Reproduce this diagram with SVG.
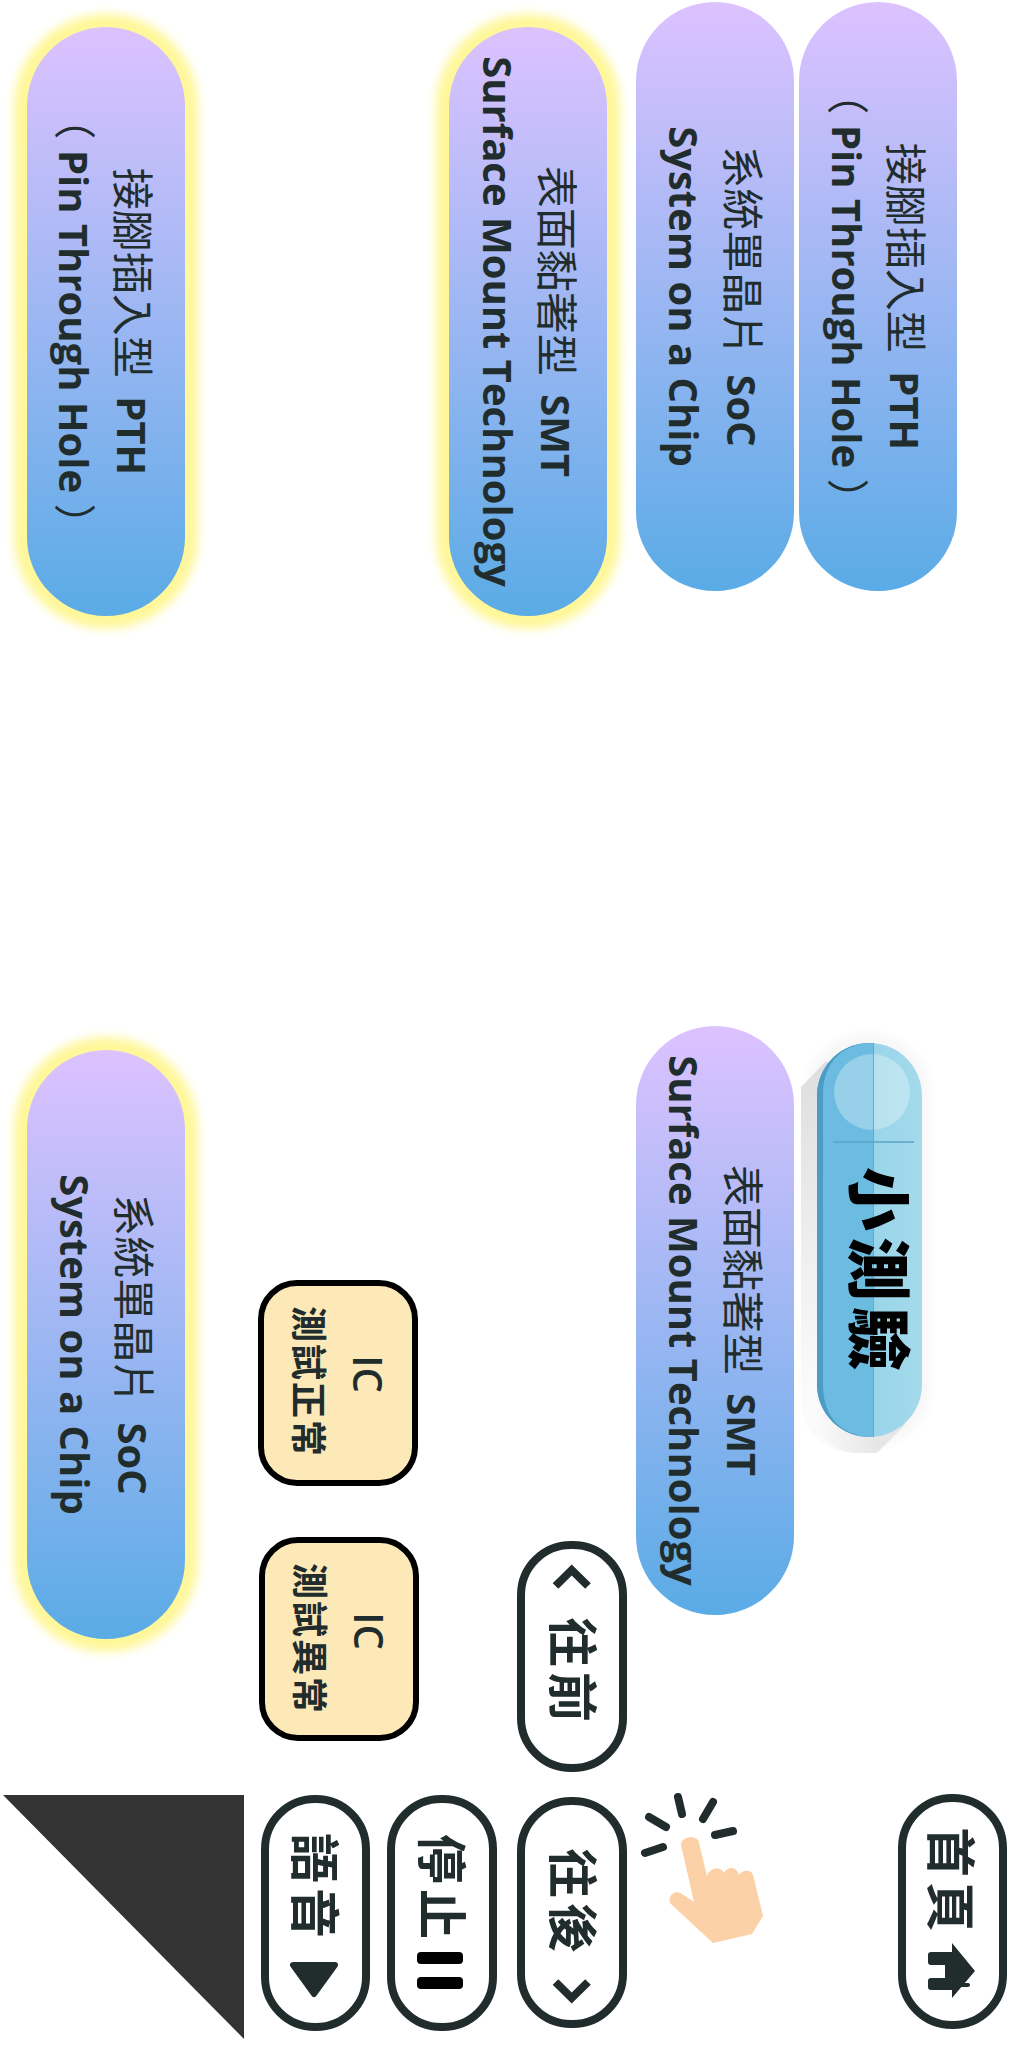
<svg xmlns="http://www.w3.org/2000/svg" width="1024" height="2048" viewBox="0 0 1024 2048">
<style>
text{font-family:"Noto Sans CJK TC",sans-serif;fill:#212d2c}
.p{font-family:"Open Sans","Noto Sans CJK TC",sans-serif;font-size:40px;font-weight:700;text-anchor:middle}
.c{font-family:"Noto Sans CJK TC",sans-serif;font-weight:400;font-size:42px;word-spacing:9px}
.ic{font-family:"Open Sans",sans-serif;font-size:40px;font-weight:600;text-anchor:middle}
.ict{font-size:36px;font-weight:700;letter-spacing:2px;text-anchor:middle}
.b{font-size:50px;font-weight:700;letter-spacing:5px}
.btn{fill:#fff;stroke:#212d2c;stroke-width:8}
.box{fill:#fde8b8;stroke:#000;stroke-width:6}
.ray{stroke:#212d2c;stroke-width:8;stroke-linecap:round;fill:none}
.chev{fill:none;stroke:#212d2c;stroke-width:8}
.glow{fill:#fff79a;filter:url(#blur)}
.pill{fill:url(#g)}
</style>
<defs>
<linearGradient id="g" x1="0" y1="0" x2="0" y2="1"><stop offset="0" stop-color="#dcc2ff"/><stop offset="1" stop-color="#5aabe6"/></linearGradient>
<linearGradient id="qr" x1="0" y1="0" x2="1" y2="0"><stop offset="0" stop-color="#8ccfe6"/><stop offset="1" stop-color="#a4daec"/></linearGradient>
<linearGradient id="sh" x1="0" y1="0" x2="0" y2="1"><stop offset="0" stop-color="#dedede"/><stop offset=".85" stop-color="#fbfbfb"/><stop offset="1" stop-color="#fbfbfb"/></linearGradient>
<linearGradient id="sh2" x1="0" y1="0" x2="1" y2="0"><stop offset="0" stop-color="#e6e6e6" stop-opacity="0"/><stop offset=".7" stop-color="#e6e6e6"/></linearGradient>
<filter id="blur" x="-20%" y="-10%" width="140%" height="120%"><feGaussianBlur stdDeviation="5"/></filter>
<clipPath id="ql"><rect x="817" y="1043" width="56" height="394"/></clipPath>
</defs>

<g id="pill-pth-glow">
<rect x="14" y="14" width="184" height="615" rx="92" class="glow"/>
<rect x="27" y="27" width="158" height="589" rx="79" class="pill"/>
<g transform="translate(117,321.500) rotate(90)"><text class="p"><tspan class="c">接腳插入型 </tspan>PTH</text></g>
<g transform="translate(59,321.500) rotate(90)"><text class="p"><tspan class="c">（</tspan> Pin Through Hole <tspan class="c">）</tspan></text></g>
</g>
<g id="pill-smt-glow">
<rect x="436" y="14" width="184" height="615" rx="92" class="glow"/>
<rect x="449" y="27" width="158" height="589" rx="79" class="pill"/>
<g transform="translate(541,321.500) rotate(90)"><text class="p"><tspan class="c">表面黏著型 </tspan>SMT</text></g>
<g transform="translate(483,321.500) rotate(90)"><text class="p">Surface Mount Technology</text></g>
</g>
<g id="pill-soc">
<rect x="636" y="2" width="158" height="589" rx="79" class="pill"/>
<g transform="translate(727,296.500) rotate(90)"><text class="p"><tspan class="c">系統單晶片 </tspan>SoC</text></g>
<g transform="translate(669,296.500) rotate(90)"><text class="p">System on a Chip</text></g>
</g>
<g id="pill-pth">
<rect x="799" y="2" width="158" height="589" rx="79" class="pill"/>
<g transform="translate(890,296.500) rotate(90)"><text class="p"><tspan class="c">接腳插入型 </tspan>PTH</text></g>
<g transform="translate(832,296.500) rotate(90)"><text class="p"><tspan class="c">（</tspan> Pin Through Hole <tspan class="c">）</tspan></text></g>
</g>
<g id="pill-smt">
<rect x="636" y="1026" width="158" height="589" rx="79" class="pill"/>
<g transform="translate(727,1320.500) rotate(90)"><text class="p"><tspan class="c">表面黏著型 </tspan>SMT</text></g>
<g transform="translate(669,1320.500) rotate(90)"><text class="p">Surface Mount Technology</text></g>
</g>
<g id="pill-soc-glow">
<rect x="14" y="1037" width="184" height="615" rx="92" class="glow"/>
<rect x="27" y="1050" width="158" height="589" rx="79" class="pill"/>
<g transform="translate(118,1344.500) rotate(90)"><text class="p"><tspan class="c">系統單晶片 </tspan>SoC</text></g>
<g transform="translate(60,1344.500) rotate(90)"><text class="p">System on a Chip</text></g>
</g>

<g id="quiz">
<rect x="806" y="1034" width="124" height="412" rx="60" fill="#000" fill-opacity=".03" filter="url(#blur)"/>
<path d="M825 1062L801 1087V1401A52 52 0 0 0 853 1453H877L905 1425V1062Z" fill="url(#sh)"/>
<path d="M815 1400V1412A41 41 0 0 0 856 1453H877L905 1425V1400Z" fill="url(#sh2)"/>
<rect x="817" y="1043" width="105" height="394" rx="52.5" fill="url(#qr)"/>
<rect x="817" y="1043" width="105" height="394" rx="52.5" fill="#6cbce1" clip-path="url(#ql)"/>
<path d="M873 1043H870A52.500 52.500 0 0 0 817 1095V1385A52.500 52.500 0 0 0 870 1437H873C845 1437 823 1420 823 1385V1095C823 1060 845 1043 873 1043Z" fill="#4c9cc6"/>
<circle cx="872" cy="1092" r="38" fill="#fff" fill-opacity=".3"/>
<path d="M833 1142H914" stroke="#5aa3c8" stroke-width="1.500"/>
<path d="M873.500 1043V1437" stroke="#5fabcf" stroke-width="1"/>
<g transform="translate(855,1167) rotate(90)"><text font-size="64" font-weight="900" letter-spacing="6" style="fill:#000">小測驗</text></g>
</g>

<g id="ic-ok">
<rect x="261" y="1283" width="154" height="200" rx="36" class="box"/>
<g transform="translate(353,1374) rotate(90)"><text class="ic">IC</text></g>
<g transform="translate(295,1382) rotate(90)"><text class="ict">測試正常</text></g>
</g>
<g id="ic-bad">
<rect x="262" y="1540" width="154" height="198" rx="36" class="box"/>
<g transform="translate(354,1631) rotate(90)"><text class="ic">IC</text></g>
<g transform="translate(296,1639) rotate(90)"><text class="ict">測試異常</text></g>
</g>

<g id="corner-triangle"><polygon points="3,1795 244,1795 244,2039" fill="#333"/></g>

<g id="btn-voice">
<rect x="265" y="1799" width="101" height="228" rx="50" class="btn"/>
<g transform="translate(296,1833) rotate(90)"><text class="b">語音</text></g>
<polygon points="293,1965 335,1965 314,1994" fill="#212d2c" stroke="#212d2c" stroke-width="6" stroke-linejoin="round"/>
</g>
<g id="btn-stop">
<rect x="391" y="1799" width="102" height="228" rx="50" class="btn"/>
<g transform="translate(423,1834) rotate(90)"><text class="b">停止</text></g>
<rect x="417" y="1952" width="46" height="12" rx="4"/>
<rect x="417" y="1977" width="46" height="12" rx="4"/>
</g>
<g id="btn-back">
<rect x="521" y="1801" width="102" height="223" rx="50" class="btn"/>
<g transform="translate(554,1848) rotate(90)"><text class="b">往後</text></g>
<polyline points="555.500,1982 571.700,1998 588,1982" class="chev"/>
</g>
<g id="btn-prev">
<rect x="521" y="1545" width="102" height="223" rx="50" class="btn"/>
<g transform="translate(554,1617) rotate(90)"><text class="b">往前</text></g>
<polyline points="555.500,1586 571.700,1570 588,1586" class="chev"/>
</g>
<g id="btn-home">
<rect x="902" y="1798" width="101" height="227" rx="50" class="btn"/>
<g transform="translate(932,1827) rotate(90)"><text class="b">首頁</text></g>
<path d="M931 1952H952V1943L975 1971L952 1998V1990H931Q928 1990 928 1987V1981Q928 1978 931 1978H945V1965H931Q928 1965 928 1962V1955Q928 1952 931 1952Z" fill="#212d2c"/>
<rect x="952" y="1983" width="18" height="4" rx="2" fill="#212d2c"/>
</g>

<g id="hand">
<path d="M681 1845C681 1835 699 1835 699 1843L707 1876C710 1866 722 1867 724 1873C727 1866 737 1866 739 1875C743 1869 752 1870 753 1875L763 1916L752 1934L713 1943L672 1905C665 1898 675 1888 682 1894L694 1902Z" fill="#fdd1a7"/>
<path class="ray" d="M649 1817L666 1827M678 1797L682 1814M713 1802L703 1819M715 1835L733 1831M645 1853L663 1847"/>
</g>
</svg>
